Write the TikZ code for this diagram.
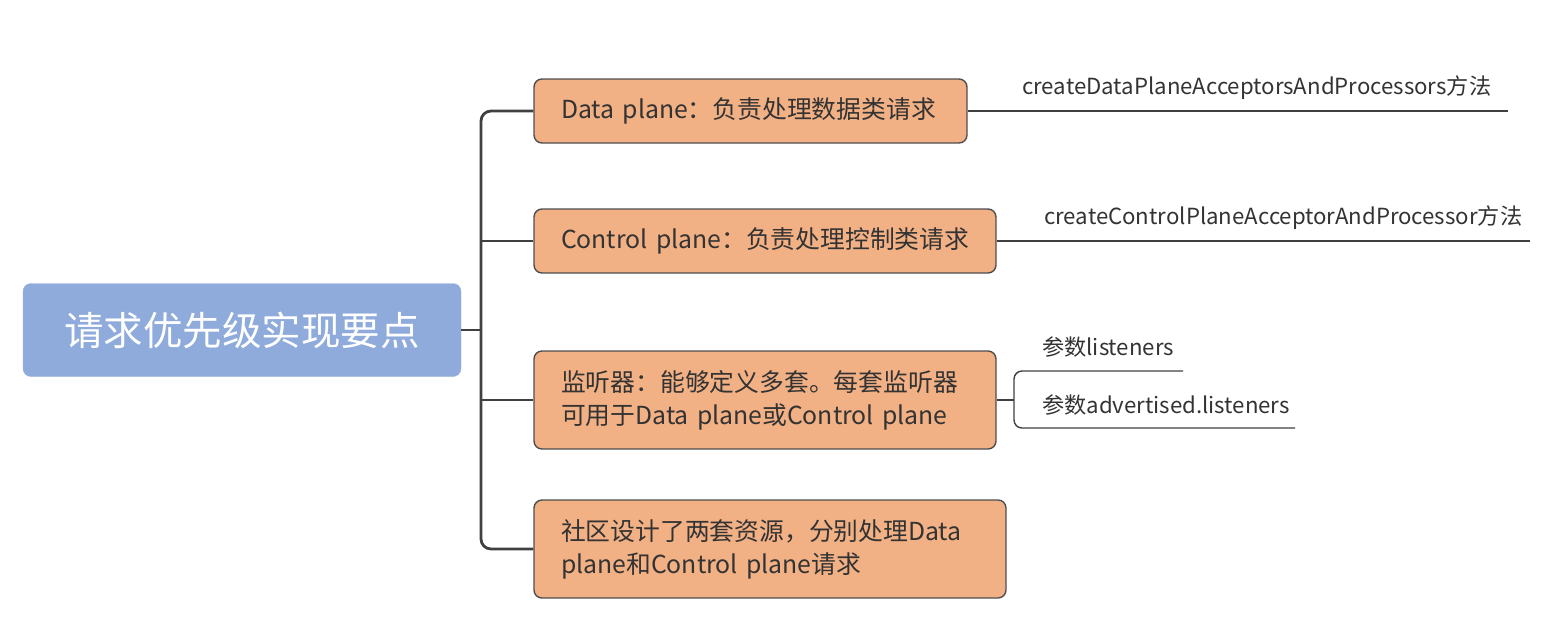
\documentclass[tikz,border=0pt]{standalone}
\usepackage{fontspec}
\setmainfont{Noto Sans CJK SC}
\begin{document}
\begin{tikzpicture}[x=1pt,y=-1pt,
  rootbox/.style={fill=rootblue, draw=rootblue!90!white, rounded corners=8pt, text=white, font=\fontsize{39.5}{46}\selectfont, minimum width=438pt, minimum height=93pt, inner sep=0pt},
  topicbox/.style={fill=boxorange, draw=borderg, line width=1.4pt, rounded corners=8pt, text=textg, font=\fontsize{24.8}{33}\selectfont, align=left, inner xsep=27pt, inner ysep=0pt, minimum height=64pt},
  subtext/.style={text=textg, font=\fontsize{22.2}{27}\selectfont, anchor=west, inner sep=0pt},
  trunk/.style={draw=lineg, line width=2.8pt, rounded corners=10pt},
  subline/.style={draw=lineg, line width=1.4pt, rounded corners=8pt}
]
\definecolor{rootblue}{HTML}{8FABDB}
\definecolor{boxorange}{HTML}{F2B085}
\definecolor{borderg}{HTML}{4F4F4F}
\definecolor{textg}{HTML}{333333}
\definecolor{lineg}{HTML}{404040}
\useasboundingbox (0,0) rectangle (1562,638);

\node[rootbox] (root) at (242,330) {请求优先级实现要点};

\node[topicbox, text width=379pt] (b1) at (750.5,111) {\mbox{Data plane：负责处理数据类请求}};
\node[topicbox, text width=408pt] (b2) at (765,241) {\mbox{Control plane：负责处理控制类请求}};
\node[topicbox, text width=408pt, minimum height=98pt] (b3) at (765,400) {\mbox{监听器：能够定义多套。每套监听器}\\\mbox{可用于Data plane或Control plane}};
\node[topicbox, text width=418pt, minimum height=98pt] (b4) at (770,549) {\mbox{社区设计了两套资源，分别处理Data}\\\mbox{plane和Control plane请求}};

\coordinate (tr) at (481,330);
\draw[trunk, rounded corners=0pt] (root.east) -- (tr);
\draw[trunk] (b1.west) -- (tr |- b1.west) -- (tr |- b4.west) -- (b4.west);
\draw[trunk, rounded corners=0pt] (tr |- b2.west) -- (b2.west);
\draw[trunk, rounded corners=0pt] (tr |- b3.west) -- (b3.west);

\node[subtext] (s1) at (1022,88) {createDataPlaneAcceptorsAndProcessors方法};
\coordinate (e1) at (1508,111);
\draw[subline] (b1.east) -- (e1);

\node[subtext] (s2) at (1044,218) {createControlPlaneAcceptorAndProcessor方法};
\coordinate (e2) at (1530,241);
\draw[subline] (b2.east) -- (e2);

\coordinate (fk) at (1014,400);
\node[subtext] (s3) at (1042,347) {参数listeners};
\node[subtext] (s4) at (1042,405) {参数advertised.listeners};
\coordinate (e3) at (1183,371);
\coordinate (e4) at (1295,428);
\draw[subline, rounded corners=0pt] (b3.east) -- (fk);
\draw[subline] (e3) -- (fk |- e3) -- (fk |- e4) -- (e4);
\end{tikzpicture}
\end{document}
